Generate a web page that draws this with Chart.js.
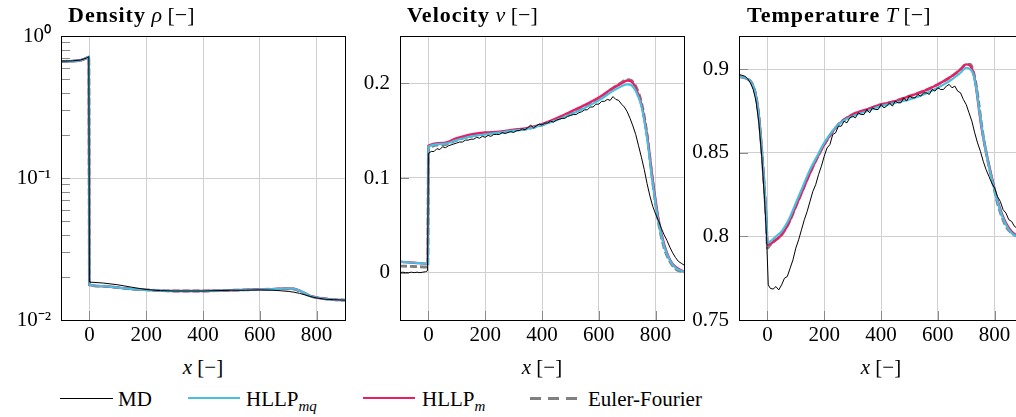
<!DOCTYPE html>
<html>
<head>
<meta charset="utf-8">
<script src="https://cdn.jsdelivr.net/npm/chart.js@4.4.0/dist/chart.umd.min.js"></script>
<style>
  body { margin: 0; width: 1016px; height: 417px; overflow: hidden; background: #fff; position: relative;
         font-family: "Liberation Serif", serif; font-size: 21px; color: #000; }
  canvas { position: absolute; top: 0; }
  .txt { position: absolute; white-space: nowrap; line-height: 24px; }
  .ttl { top: 3px; font-size: 22px; }
  .ttl b { letter-spacing: 1px; }
  .xl { top: 355px; transform: translateX(-50%); }
  .lg { top: 387px; }
  .ln { position: absolute; top: 398px; height: 0; }
  sub { font-size: 15px; line-height: 0; }
</style>
</head>
<body>
<canvas id="rho" width="350" height="350" style="left:0px"></canvas>
<canvas id="vel" width="344" height="350" style="left:345px"></canvas>
<canvas id="tmp" width="344" height="350" style="left:684px"></canvas>

<div class="txt ttl" style="left:68px"><b>Density</b> <i>ρ</i> [−]</div>
<div class="txt ttl" style="left:407px"><b>Velocity</b> <i>v</i> [−]</div>
<div class="txt ttl" style="left:747px"><b>Temperature</b> <i>T</i> [−]</div>

<div class="txt xl" style="left:203px"><i>x</i> [−]</div>
<div class="txt xl" style="left:542px"><i>x</i> [−]</div>
<div class="txt xl" style="left:881px"><i>x</i> [−]</div>

<div class="ln" style="left:60px;width:53px;border-top:1px solid #000"></div>
<div class="txt lg" style="left:118px">MD</div>
<div class="ln" style="left:188px;width:52px;border-top:2.5px solid #48bfdf;top:397px"></div>
<div class="txt lg" style="left:246px">HLLP<sub><i>mq</i></sub></div>
<div class="ln" style="left:363px;width:52px;border-top:2.5px solid #e91e63;top:397px"></div>
<div class="txt lg" style="left:422px">HLLP<sub><i>m</i></sub></div>
<div class="ln" style="left:530px;width:47px;height:2.5px;top:397px;background:repeating-linear-gradient(90deg,#808080 0 11px,transparent 11px 18px)"></div>
<div class="txt lg" style="left:588px">Euler-Fourier</div>

<script>
// ---- shared x ticks
const xTicks = [0, 200, 400, 600, 800];

// ---- density (log)
const xRho = [-100, -60, -30, -10, -2, 0, 50, 100, 150, 200, 250, 300, 350, 400, 450, 500, 550, 600, 650, 700, 720, 740, 760, 780, 800, 830, 860, 900];
const rhoMD     = [0.665, 0.668, 0.678, 0.70, 0.715, 0.0185, 0.0182, 0.0177, 0.0170, 0.0164, 0.0161, 0.0160, 0.0160, 0.0160, 0.0161, 0.0162, 0.0162, 0.0163, 0.0162, 0.0159, 0.0157, 0.0154, 0.0150, 0.0146, 0.0143, 0.0140, 0.0139, 0.0138];
const rhoHLLPmq = [0.660, 0.665, 0.675, 0.70, 0.712, 0.0177, 0.0173, 0.0169, 0.0165, 0.0163, 0.0161, 0.0160, 0.0160, 0.0160, 0.0161, 0.0162, 0.0163, 0.0164, 0.0165, 0.0167, 0.0166, 0.0161, 0.0154, 0.0147, 0.0144, 0.0141, 0.0139, 0.0138];
const rhoHLLPm  = [0.660, 0.665, 0.675, 0.70, 0.712, 0.0177, 0.0173, 0.0169, 0.0165, 0.0163, 0.0161, 0.0160, 0.0160, 0.0160, 0.0161, 0.0162, 0.0163, 0.0164, 0.0165, 0.0167, 0.0166, 0.0161, 0.0154, 0.0147, 0.0144, 0.0141, 0.0139, 0.0138];
const rhoEuler  = [0.662, 0.666, 0.676, 0.70, 0.713, 0.0177, 0.0173, 0.0169, 0.0165, 0.0163, 0.0161, 0.0160, 0.0160, 0.0160, 0.0161, 0.0162, 0.0163, 0.0164, 0.0165, 0.0166, 0.0165, 0.0160, 0.0153, 0.0147, 0.0144, 0.0141, 0.0139, 0.0138];
const rhoTicks = [0.01, 0.1, 1];
const rhoLabels = { 0.01: "10⁻²", 0.1: "10⁻¹", 1: "10⁰" };

// ---- velocity
const xVel = [-100, -50, -2, 0, 50, 100, 150, 200, 250, 300, 350, 400, 450, 500, 550, 600, 650, 680, 700, 715, 730, 750, 770, 790, 810, 830, 850, 870, 900];
const velHLLPm  = [0.0115, 0.0105, 0.0095, 0.134, 0.137, 0.142, 0.146, 0.148, 0.149, 0.151, 0.153, 0.157, 0.163, 0.170, 0.177, 0.185, 0.195, 0.200, 0.203, 0.202, 0.195, 0.178, 0.145, 0.098, 0.057, 0.030, 0.014, 0.006, 0.001];
const velHLLPmq = [0.0115, 0.0105, 0.0095, 0.133, 0.136, 0.140, 0.144, 0.146, 0.148, 0.150, 0.152, 0.156, 0.161, 0.167, 0.174, 0.182, 0.192, 0.197, 0.199, 0.198, 0.192, 0.176, 0.142, 0.094, 0.054, 0.028, 0.013, 0.005, 0.001];
const velEuler  = [0.0070, 0.0065, 0.0060, 0.131, 0.135, 0.140, 0.144, 0.147, 0.148, 0.150, 0.152, 0.156, 0.162, 0.169, 0.176, 0.184, 0.195, 0.201, 0.204, 0.203, 0.197, 0.180, 0.146, 0.095, 0.053, 0.026, 0.012, 0.004, 0.0005];
const velTicks = [0, 0.1, 0.2];

// MD samples (noisy)
const xMDv = [-100, -90, -80, -70, -60, -50, -40, -30, -20, -10, -3, 0, 10, 20, 30, 40, 50, 60, 70, 80, 90, 100, 110, 120, 130, 140, 150, 160, 170, 180, 190, 200, 210, 220, 230, 240, 250, 260, 270, 280, 290, 300, 310, 320, 330, 340, 350, 360, 370, 380, 390, 400, 410, 420, 430, 440, 450, 460, 470, 480, 490, 500, 510, 520, 530, 540, 550, 560, 570, 580, 590, 600, 610, 620, 630, 640, 650, 660, 670, 680, 690, 700, 710, 720, 730, 740, 750, 760, 770, 780, 790, 800, 810, 820, 830, 840, 850, 860, 870, 880, 890, 900];
const velMD = [0.000, 0.0005, 0.000, 0.000, 0.0005, 0.000, 0.0005, 0.000, 0.0005, 0.001, 0.002,
  0.126, 0.128, 0.128, 0.131, 0.130, 0.133, 0.132, 0.134, 0.135, 0.136,
  0.137, 0.138, 0.138, 0.140, 0.140, 0.141, 0.141, 0.143, 0.142, 0.144,
  0.143, 0.145, 0.144, 0.146, 0.146, 0.146, 0.148, 0.147, 0.148, 0.149,
  0.148, 0.150, 0.150, 0.152, 0.151, 0.153, 0.156, 0.153, 0.155, 0.157,
  0.156, 0.158, 0.158, 0.160, 0.159, 0.161, 0.162, 0.163, 0.163, 0.165,
  0.166, 0.167, 0.167, 0.169, 0.170, 0.172, 0.172, 0.175, 0.175, 0.178,
  0.178, 0.181, 0.181, 0.183, 0.182, 0.186, 0.183, 0.182, 0.178, 0.175,
  0.170, 0.163, 0.155, 0.146, 0.134, 0.122, 0.109, 0.094, 0.081, 0.070,
  0.062, 0.055, 0.047, 0.040, 0.034, 0.027, 0.021, 0.016, 0.012, 0.010, 0.008];

// ---- temperature
const xTmp = [-100, -80, -60, -50, -40, -30, -20, -10, -3, 0, 10, 30, 50, 75, 100, 125, 150, 175, 200, 250, 300, 350, 400, 450, 500, 550, 600, 650, 680, 700, 715, 725, 735, 745, 755, 765, 780, 795, 810, 825, 840, 860, 880, 900];
const tmpHLLPm  = [0.8955, 0.895, 0.893, 0.890, 0.884, 0.872, 0.852, 0.828, 0.808, 0.795, 0.7955, 0.798, 0.801, 0.808, 0.818, 0.828, 0.838, 0.847, 0.855, 0.867, 0.873, 0.876, 0.879, 0.881, 0.884, 0.887, 0.891, 0.896, 0.900, 0.903, 0.902, 0.898, 0.889, 0.876, 0.864, 0.855, 0.843, 0.832, 0.822, 0.814, 0.808, 0.803, 0.8005, 0.7995];
const tmpHLLPmq = [0.8955, 0.895, 0.893, 0.890, 0.884, 0.872, 0.852, 0.828, 0.809, 0.796, 0.797, 0.800, 0.803, 0.810, 0.820, 0.830, 0.840, 0.848, 0.856, 0.867, 0.872, 0.875, 0.878, 0.880, 0.882, 0.885, 0.889, 0.894, 0.898, 0.901, 0.900, 0.897, 0.889, 0.877, 0.865, 0.855, 0.842, 0.831, 0.821, 0.813, 0.807, 0.802, 0.800, 0.7995];
const tmpEuler  = [0.8960, 0.895, 0.893, 0.890, 0.884, 0.872, 0.852, 0.828, 0.806, 0.793, 0.795, 0.798, 0.801, 0.808, 0.818, 0.828, 0.838, 0.847, 0.855, 0.867, 0.873, 0.876, 0.879, 0.881, 0.884, 0.887, 0.891, 0.896, 0.900, 0.903, 0.903, 0.899, 0.891, 0.879, 0.866, 0.855, 0.842, 0.831, 0.820, 0.812, 0.806, 0.802, 0.800, 0.7995];
const tmpTicks = [0.75, 0.8, 0.85, 0.9];

const xMDt = [-100, -90, -80, -70, -60, -50, -40, -30, -20, -10, -3, 3, 10, 20, 30, 40, 50, 60, 70, 80, 90, 100, 110, 120, 130, 140, 150, 160, 170, 180, 190, 200, 210, 220, 230, 240, 250, 260, 270, 280, 290, 300, 310, 320, 330, 340, 350, 360, 370, 380, 390, 400, 410, 420, 430, 440, 450, 460, 470, 480, 490, 500, 510, 520, 530, 540, 550, 560, 570, 580, 590, 600, 610, 620, 630, 640, 650, 660, 670, 680, 690, 700, 710, 720, 730, 740, 750, 760, 770, 780, 790, 800, 810, 820, 830, 840, 850, 860, 870, 880, 890, 900];
const tmpMD = [0.897, 0.8965, 0.896, 0.8945, 0.892, 0.888, 0.881, 0.868, 0.848, 0.822, 0.800,
  0.771, 0.769, 0.7685, 0.770, 0.768, 0.771, 0.775, 0.776, 0.781, 0.786,
  0.793, 0.798, 0.804, 0.810, 0.815, 0.821, 0.827, 0.831, 0.837, 0.842,
  0.848, 0.853, 0.855, 0.861, 0.862, 0.866, 0.866, 0.869, 0.868, 0.871,
  0.872, 0.871, 0.874, 0.873, 0.873, 0.876, 0.874, 0.877, 0.876, 0.876,
  0.879, 0.877, 0.878, 0.880, 0.878, 0.881, 0.880, 0.880, 0.883, 0.881,
  0.884, 0.883, 0.883, 0.885, 0.884, 0.886, 0.886, 0.885, 0.888, 0.887,
  0.889, 0.888, 0.888, 0.890, 0.891, 0.889, 0.890, 0.887, 0.886, 0.882,
  0.879, 0.874, 0.869, 0.862, 0.856, 0.851, 0.845, 0.840, 0.836, 0.832,
  0.829, 0.824, 0.821, 0.816, 0.814, 0.810, 0.809, 0.806, 0.805, 0.803, 0.802];

const pts = (xs, ys) => xs.map((x, i) => ({ x: x, y: ys[i] }));

const FONT = { family: "'Liberation Serif', serif", size: 21 };
const CYAN = '#48bfdf', PINK = '#e91e63', GRAY = '#808080';

function sets(xs, md, mq, m, eu, xmd) {
  return [
    { data: pts(xmd || xs, md), borderColor: '#000', borderWidth: 1, tension: 0 },
    { data: pts(xs, mq), borderColor: CYAN, borderWidth: 2.2, cubicInterpolationMode: 'monotone' },
    { data: pts(xs, m), borderColor: PINK, borderWidth: 2.4, cubicInterpolationMode: 'monotone' },
    { data: pts(xs, eu), borderColor: GRAY, borderWidth: 2.8, borderDash: [7, 3], cubicInterpolationMode: 'monotone' }
  ];
}

// frame + inward tick marks (pgfplots look)
const framePlugin = {
  id: 'frame',
  afterDraw(chart) {
    const { ctx, chartArea: a, scales } = chart;
    ctx.save();
    ctx.strokeStyle = '#8a8a8a';
    ctx.lineWidth = 1;
    ctx.beginPath();
    xTicks.forEach(v => {
      const px = Math.round(scales.x.getPixelForValue(v)) + 0.5;
      ctx.moveTo(px, a.bottom); ctx.lineTo(px, a.bottom - 9);
    });
    scales.y.ticks.forEach(t => {
      const py = Math.round(scales.y.getPixelForValue(t.value)) + 0.5;
      ctx.moveTo(a.left, py); ctx.lineTo(a.left + 9, py);
    });
    if (scales.y.type === 'logarithmic') {
      [0.01, 0.1].forEach(d => {
        for (let k = 2; k <= 9; k++) {
          const py = Math.round(scales.y.getPixelForValue(d * k)) + 0.5;
          ctx.moveTo(a.left, py); ctx.lineTo(a.left + 9, py);
        }
      });
    }
    ctx.stroke();
    ctx.strokeStyle = '#000';
    ctx.strokeRect(Math.round(a.left) + 0.5, Math.round(a.top) + 0.5, Math.round(a.right - a.left), Math.round(a.bottom - a.top));
    ctx.restore();
  }
};

function makeChart(id, datasets, yOpts, yWidth) {
  return new Chart(document.getElementById(id), {
    type: 'line',
    data: { datasets: datasets },
    options: {
      responsive: false,
      animation: false,
      devicePixelRatio: 1,
      layout: { padding: { top: 36, right: 5, left: 0, bottom: 0 } },
      elements: { point: { radius: 0 } },
      plugins: { legend: { display: false }, tooltip: { enabled: false } },
      scales: {
        x: {
          type: 'linear', min: -100, max: 900,
          afterBuildTicks: s => { s.ticks = xTicks.map(v => ({ value: v })); },
          afterFit: s => { s.height = 30; },
          grid: { color: '#cfcfcf', drawTicks: false },
          border: { color: '#000' },
          ticks: { font: FONT, color: '#000', padding: 3, maxRotation: 0, callback: v => String(v) }
        },
        y: Object.assign({
          afterFit: s => { s.width = yWidth; },
          grid: { color: '#cfcfcf', drawTicks: false },
          border: { color: '#000' }
        }, yOpts)
      }
    },
    plugins: [framePlugin]
  });
}

function drawAll() {
  makeChart('rho', sets(xRho, rhoMD, rhoHLLPmq, rhoHLLPm, rhoEuler), {
    type: 'logarithmic', min: 0.01, max: 1,
    afterBuildTicks: s => { s.ticks = rhoTicks.map(v => ({ value: v })); },
    ticks: { font: FONT, color: '#000', padding: 10, callback: v => rhoLabels[v] }
  }, 61);

  makeChart('vel', sets(xVel, velMD, velHLLPmq, velHLLPm, velEuler, xMDv), {
    type: 'linear', min: -0.05, max: 0.25,
    afterBuildTicks: s => { s.ticks = velTicks.map(v => ({ value: v })); },
    ticks: { font: FONT, color: '#000', padding: 10, callback: v => String(v) }
  }, 55);

  makeChart('tmp', sets(xTmp, tmpMD, tmpHLLPmq, tmpHLLPm, tmpEuler, xMDt), {
    type: 'linear', min: 0.75, max: 0.92,
    afterBuildTicks: s => { s.ticks = tmpTicks.map(v => ({ value: v })); },
    ticks: { font: FONT, color: '#000', padding: 10, callback: v => String(v) }
  }, 55);
}

document.fonts.load('21px "Liberation Serif"').then(drawAll, drawAll);
</script>
</body>
</html>
